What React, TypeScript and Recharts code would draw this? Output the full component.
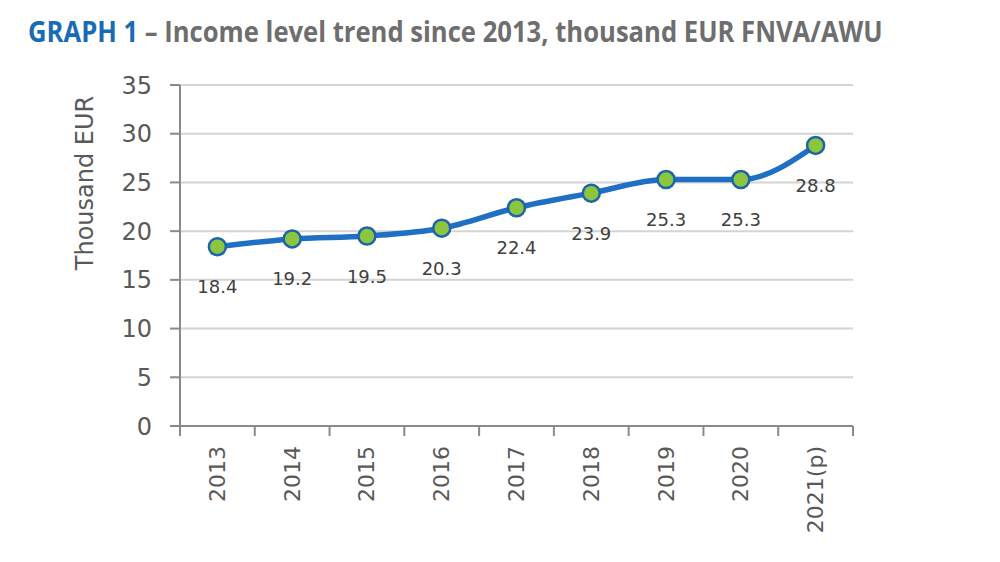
import { LineChart, Line, XAxis, YAxis, CartesianGrid, LabelList } from 'recharts'

const years = ['2013', '2014', '2015', '2016', '2017', '2018', '2019', '2020', '2021(p)']
const income = [18.4, 19.2, 19.5, 20.3, 22.4, 23.9, 25.3, 25.3, 28.8]
const yTicks = [0, 5, 10, 15, 20, 25, 30, 35]

const data = years.map((year, i) => ({ year, income: income[i] }))

const W = 1000
const H = 562
const margin = { top: 85, right: 147, bottom: 0, left: 0 }
const yAxisWidth = 180
const plotWidth = W - margin.left - margin.right - yAxisWidth
const band = plotWidth / years.length

const BLUE = '#1f6fc4'
const GREEN = '#8cc63f'
const AXIS = '#8a8a8a'
const TEXT = '#595959'
const FONT = '"DejaVu Sans", Verdana, sans-serif'

// category boundaries get the tick marks, labels sit in the middle
function XTick(props: any) {
  const { x, y, payload, index } = props
  return (
    <g>
      <line x1={x - band / 2} y1={y} x2={x - band / 2} y2={y + 10} stroke={AXIS} strokeWidth={2} />
      {index === years.length - 1 && (
        <line x1={x + band / 2} y1={y} x2={x + band / 2} y2={y + 10} stroke={AXIS} strokeWidth={2} />
      )}
      <text
        x={x}
        y={y + 20}
        transform={`rotate(-90, ${x}, ${y + 20})`}
        textAnchor="end"
        dominantBaseline="central"
        fill={TEXT}
        fontSize={22}
        fontFamily={FONT}
      >
        {payload.value}
      </text>
    </g>
  )
}

function YLabel(props: any) {
  const { viewBox } = props
  const x = viewBox.x + 85
  const y = 183
  return (
    <text
      x={x}
      y={y}
      transform={`rotate(-90, ${x}, ${y})`}
      textAnchor="middle"
      dominantBaseline="central"
      fill={TEXT}
      fontSize={24}
      fontFamily={FONT}
    >
      Thousand EUR
    </text>
  )
}

function ValueLabel(props: any) {
  const { x, y, value } = props
  return (
    <text
      x={x}
      y={y + 40}
      textAnchor="middle"
      dominantBaseline="central"
      fill="#404040"
      fontSize={18}
      fontFamily={FONT}
    >
      {value.toFixed(1)}
    </text>
  )
}

export default function App() {
  return (
    <div style={{ position: 'absolute', left: 0, top: 0, width: W, height: H, background: '#fff' }}>
      <div
        style={{
          position: 'absolute',
          left: 28,
          top: 12,
          fontFamily: '"Open Sans", sans-serif',
          fontWeight: 700,
          fontSize: 28,
          color: '#6e6e6e',
          whiteSpace: 'nowrap',
          transform: 'scaleX(0.915)',
          transformOrigin: 'left top',
          zIndex: 1,
        }}
      >
        <span style={{ color: '#1a6bb5' }}>GRAPH 1</span> – Income level trend since 2013, thousand EUR FNVA/AWU
      </div>
      <LineChart width={W} height={H} data={data} margin={margin}>
        <CartesianGrid vertical={false} stroke="#d4d4d4" strokeWidth={2} />
        <XAxis
          dataKey="year"
          height={H - margin.top - 341}
          interval={0}
          padding={{ left: band / 2, right: band / 2 }}
          tickSize={0}
          tickMargin={0}
          stroke={AXIS}
          strokeWidth={2}
          tick={<XTick />}
        />
        <YAxis
          width={yAxisWidth}
          domain={[0, 35]}
          ticks={yTicks}
          interval={0}
          tickSize={10}
          tickMargin={18}
          stroke={AXIS}
          strokeWidth={2}
          tick={{ fill: TEXT, fontSize: 24, fontFamily: FONT }}
          label={<YLabel />}
        />
        <Line
          type="monotone"
          dataKey="income"
          stroke={BLUE}
          strokeWidth={5.5}
          dot={{ r: 8.5, fill: GREEN, stroke: '#1d64ad', strokeWidth: 2.5 }}
          isAnimationActive={false}
        >
          <LabelList dataKey="income" content={<ValueLabel />} />
        </Line>
      </LineChart>
    </div>
  )
}
